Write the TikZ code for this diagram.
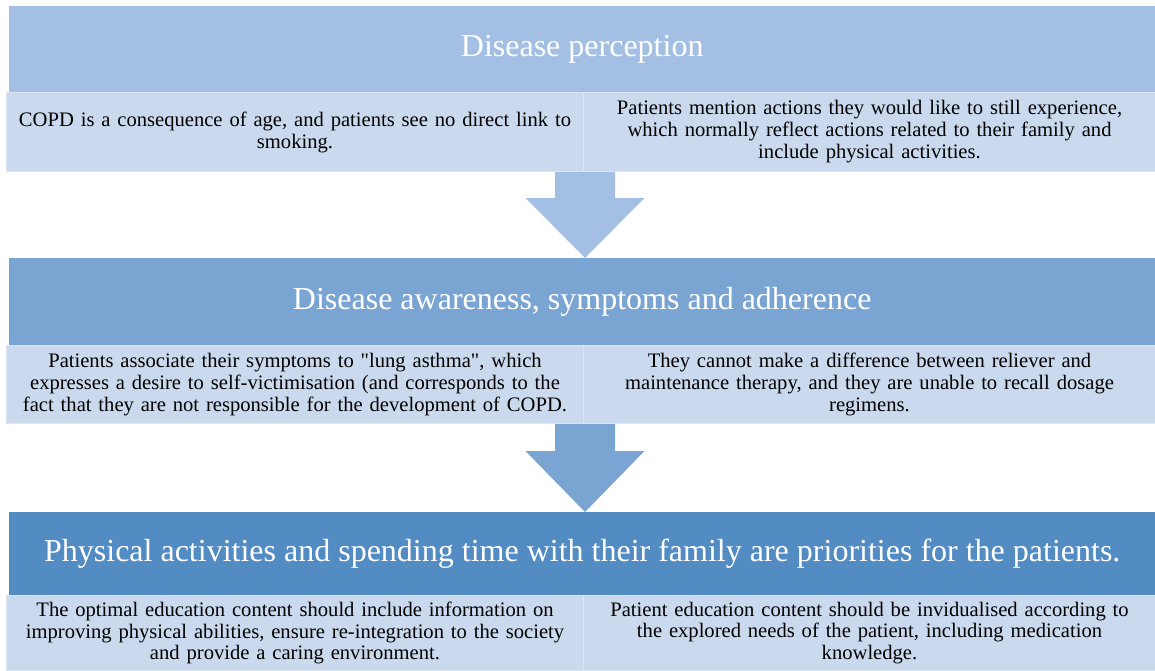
\documentclass[tikz,border=0pt]{standalone}
\usepackage{fontspec}
\setmainfont{Liberation Serif}[Ligatures=TeXOff]
\usetikzlibrary{calc}
\definecolor{hdrA}{HTML}{A3BFE3}
\definecolor{hdrB}{HTML}{7AA5D3}
\definecolor{hdrC}{HTML}{528CC3}
\definecolor{subfill}{HTML}{CAD9ED}
\definecolor{subedge}{HTML}{DCE6F3}
\tikzset{
  hdr/.style={anchor=north west, inner sep=0pt, minimum height=#1, minimum width=1146pt,
    text=white, font=\fontsize{32}{38}\selectfont},
  subbox/.style={anchor=north west, inner sep=0pt, fill=subfill, draw=subedge, line width=1pt,
    minimum height=#1, align=center, text=black, font=\fontsize{20.6}{22}\selectfont},
  subL/.style={subbox=#1, minimum width=577pt, text width=572pt},
  subR/.style={subbox=#1, minimum width=572pt, text width=567pt},
}
\begin{document}
\begin{tikzpicture}[x=1pt,y=-1pt]
\useasboundingbox (0,0) rectangle (1155,670);
\fill[white] (0,0) rectangle (1155,670);

% stage 1
\node[hdr=86pt, fill=hdrA] (h1) at (9,6) {Disease perception};
\node[subL=79pt] (a1) at (6,92) {COPD is a consequence of age, and patients see no direct link to\\smoking.};
\node[subR=79pt] (b1) at (583,92) {Patients mention actions they would like to still experience,\\which normally reflect actions related to their family and\\include physical activities.};

% stage 2
\node[hdr=87pt, fill=hdrB] (h2) at (9,258) {Disease awareness, symptoms and adherence};
\node[subL=78pt] (a2) at (6,345) {Patients associate their symptoms to "lung asthma", which\\expresses a desire to self-victimisation (and corresponds to the\\fact that they are not responsible for the development of COPD.};
\node[subR=78pt] (b2) at (583,345) {They cannot make a difference between reliever and\\maintenance therapy, and they are unable to recall dosage\\regimens.};

% stage 3
\node[hdr=83pt, fill=hdrC] (h3) at (9,512) {Physical activities and spending time with their family are priorities for the patients.};
\node[subL=75pt, font=\fontsize{20.6}{21.3}\selectfont] (a3) at (6,595) {The optimal education content should include information on\\improving physical abilities, ensure re-integration to the society\\and provide a caring environment.};
\node[subR=75pt, font=\fontsize{20.6}{21.3}\selectfont] (b3) at (583,595) {Patient education content should be invidualised according to\\the explored needs of the patient, including medication\\knowledge.};

% block arrows between the stages
\coordinate (s1) at ($(a1.south east)+(1,0)$);
\fill[hdrA] ($(s1)+(-30,0)$) -- ($(s1)+(30,0)$) -- ($(s1)+(30,26)$) -- ($(s1)+(59.5,26)$)
  -- (s1 |- h2.north) -- ($(s1)+(-59.5,26)$) -- ($(s1)+(-30,26)$) -- cycle;
\coordinate (s2) at ($(a2.south east)+(1,0)$);
\fill[hdrB] ($(s2)+(-30,0)$) -- ($(s2)+(30,0)$) -- ($(s2)+(30,27)$) -- ($(s2)+(59.5,27)$)
  -- (s2 |- h3.north) -- ($(s2)+(-59.5,27)$) -- ($(s2)+(-30,27)$) -- cycle;
\end{tikzpicture}
\end{document}
